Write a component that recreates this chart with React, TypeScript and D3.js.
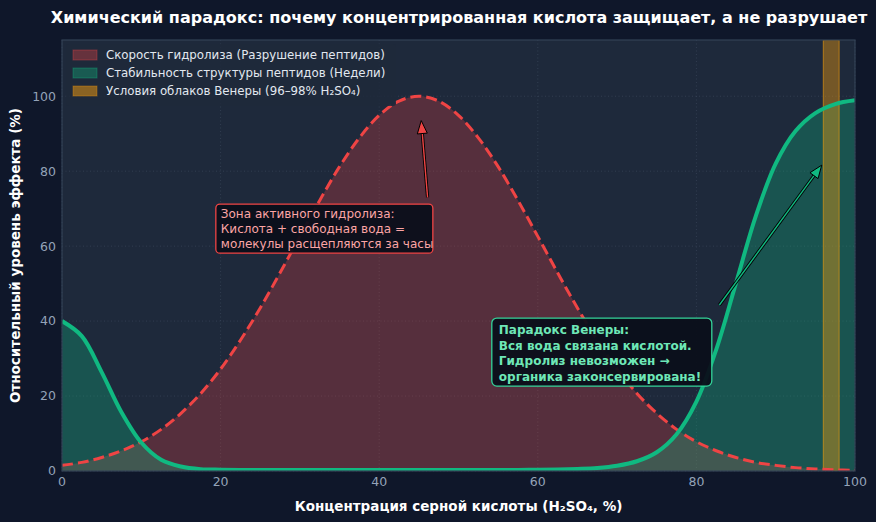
import React, {useEffect} from 'react';
import * as d3 from 'd3';

// concentration of H2SO4, %
const concentration = [
  0, 2.5, 5, 7.5, 10, 12.5, 15, 17.5, 20, 22.5, 25, 27.5, 30, 32.5, 35, 37.5, 40, 42.5, 45, 47.5,
  50, 52.5, 55, 57.5, 60, 62.5, 65, 67.5, 70, 72.5, 75, 77.5, 80, 82.5, 85, 87.5, 90, 92.5, 95, 97.5, 100,
];

// hydrolysis rate (peptide destruction)
const hydrolysis = [
  1.5, 2.3, 3.6, 5.4, 7.8, 11.1, 15.4, 20.7, 27.2, 34.9, 43.5, 52.9, 62.6, 72.2, 81.2, 88.9, 94.9, 98.7, 100, 98.7,
  94.9, 88.9, 81.2, 72.2, 62.6, 52.9, 43.5, 34.9, 27.2, 20.7, 15.4, 11.1, 7.8, 5.4, 3.6, 2.3, 1.5, 0.9, 0.55, 0.3, 0.2,
];

// structural stability of peptides
const stability = [
  40.0, 36.0, 26.4, 15.7, 7.6, 3.0, 1.2, 0.5, 0.35, 0.3, 0.3, 0.3, 0.3, 0.3, 0.3, 0.3, 0.3, 0.3, 0.3, 0.3,
  0.3, 0.3, 0.3, 0.3, 0.35, 0.4, 0.55, 0.8, 1.4, 2.6, 5.0, 9.8, 18.5, 32.4, 50.2, 68.1, 82.0, 90.7, 95.5, 97.9, 98.9,
];

const venusBand = [96, 98];
const xTicks = [0, 20, 40, 60, 80, 100];
const yTicks = [0, 20, 40, 60, 80, 100];

const legendLabels = [
  'Скорость гидролиза (Разрушение пептидов)',
  'Стабильность структуры пептидов (Недели)',
  'Условия облаков Венеры (96–98% H₂SO₄)',
];

const redNote = ['Зона активного гидролиза:', 'Кислота + свободная вода =', 'молекулы расщепляются за часы'];
const greenNote = ['Парадокс Венеры:', 'Вся вода связана кислотой.', 'Гидролиз невозможен →', 'органика законсервирована!'];

const W = 876;
const H = 522;
const margin = {top: 40, right: 21, bottom: 51, left: 62};
const FONT = '"DejaVu Sans", sans-serif';

const RED = '#ef4444';
const GREEN = '#10b981';
const ORANGE = '#f59e0b';

function Arrow({x1, y1, x2, y2, color}: {x1: number; y1: number; x2: number; y2: number; color: string}) {
  const ang = Math.atan2(y2 - y1, x2 - x1);
  const hl = 13;
  const hw = 5;
  const bx = x2 - hl * Math.cos(ang);
  const by = y2 - hl * Math.sin(ang);
  const px = -Math.sin(ang);
  const py = Math.cos(ang);
  const head = `${x2},${y2} ${bx + hw * px},${by + hw * py} ${bx - hw * px},${by - hw * py}`;
  return (
    <g>
      <line x1={x1} y1={y1} x2={bx} y2={by} stroke="#000" strokeWidth={3.2}/>
      <line x1={x1} y1={y1} x2={bx} y2={by} stroke={color} strokeWidth={1.4}/>
      <polygon points={head} fill={color} stroke="#000" strokeWidth={1}/>
    </g>
  );
}

export default function App() {
  useEffect(() => {
    document.body.style.margin = '0';
    document.body.style.background = '#0f172a';
  }, []);

  const x = d3.scaleLinear().domain([0, 100]).range([margin.left, W - margin.right]);
  const y = d3.scaleLinear().domain([0, 115]).range([H - margin.bottom, margin.top]);

  const pts = (vals: number[]) => concentration.map((c, i) => [c, vals[i]] as [number, number]);

  const curve = d3.curveCatmullRom.alpha(0.5);
  const line = d3.line<[number, number]>().x(d => x(d[0])).y(d => y(d[1])).curve(curve);
  const area = d3.area<[number, number]>().x(d => x(d[0])).y0(y(0)).y1(d => y(d[1])).curve(curve);

  const redPts = pts(hydrolysis);
  const greenPts = pts(stability);

  const plotW = W - margin.left - margin.right;
  const plotH = H - margin.top - margin.bottom;

  return (
    <svg width={W} height={H} style={{display: 'block', background: '#0f172a'}} fontFamily={FONT}>
      <rect x={0} y={0} width={W} height={H} fill="#0f172a"/>
      {/* plot area */}
      <rect x={margin.left} y={margin.top} width={plotW} height={plotH} fill="#1e293b"/>

      {/* grid */}
      <g stroke="#475569" strokeOpacity={0.6} strokeWidth={0.8} strokeDasharray="1,2.5">
        {yTicks.map(t => <line key={'gy' + t} x1={margin.left} x2={W - margin.right} y1={y(t)} y2={y(t)}/>)}
        {xTicks.map(t => <line key={'gx' + t} x1={x(t)} x2={x(t)} y1={margin.top} y2={H - margin.bottom}/>)}
      </g>

      <defs>
        <clipPath id="plot-clip">
          <rect x={margin.left} y={margin.top} width={plotW} height={plotH}/>
        </clipPath>
      </defs>

      <g clipPath="url(#plot-clip)">
        {/* fills */}
        <path d={area(redPts)!} fill={RED} fillOpacity={0.27}/>
        <path d={area(greenPts)!} fill={GREEN} fillOpacity={0.3}/>

        {/* venus band */}
        <rect x={x(venusBand[0])} y={margin.top} width={x(venusBand[1]) - x(venusBand[0])} height={plotH}
              fill={ORANGE} fillOpacity={0.4} stroke={ORANGE} strokeOpacity={0.6} strokeWidth={1}/>

        {/* lines */}
        <path d={line(redPts)!} fill="none" stroke={RED} strokeWidth={3} strokeDasharray="11,5"/>
        <path d={line(greenPts)!} fill="none" stroke={GREEN} strokeWidth={4}/>
      </g>

      {/* spines */}
      <rect x={margin.left} y={margin.top} width={plotW} height={plotH} fill="none" stroke="#334155" strokeWidth={1.2}/>

      {/* ticks */}
      <g fill="#94a3b8" fontSize={12.5}>
        {yTicks.map(t => (
          <text key={'ty' + t} x={margin.left - 6} y={y(t)} dy="0.35em" textAnchor="end">{t}</text>
        ))}
        {xTicks.map(t => (
          <text key={'tx' + t} x={x(t)} y={H - margin.bottom + 15} textAnchor="middle">{t}</text>
        ))}
      </g>

      {/* axis labels */}
      <text x={x(50)} y={511} textAnchor="middle" fill="#ffffff" fontSize={13.5} fontWeight="bold">
        Концентрация серной кислоты (H₂SO₄, %)
      </text>
      <text transform={`translate(20,${(margin.top + H - margin.bottom) / 2}) rotate(-90)`} textAnchor="middle"
            fill="#ffffff" fontSize={13.5} fontWeight="bold">
        Относительный уровень эффекта (%)
      </text>

      {/* title */}
      <text x={459} y={23} textAnchor="middle" fill="#ffffff" fontSize={16} fontWeight="bold">
        Химический парадокс: почему концентрированная кислота защищает, а не разрушает
      </text>

      {/* legend */}
      <g fontSize={11.8}>
        <rect x={margin.left + 4} y={margin.top + 4} width={330} height={62} rx={3} fill="#1e293b" fillOpacity={0.85}/>
        {legendLabels.map((lab, i) => {
          const c = [RED, GREEN, ORANGE][i];
          const yy = 55 + i * 18;
          return (
            <g key={lab}>
              <rect x={73} y={yy - 5} width={24} height={10} fill={c} fillOpacity={i === 2 ? 0.5 : 0.35}
                    stroke={c} strokeOpacity={0.35}/>
              <text x={106} y={yy} dy="0.35em" fill="#e2e8f0">{lab}</text>
            </g>
          );
        })}
      </g>

      {/* arrows */}
      <Arrow x1={x(46.1)} y1={y(73)} x2={x(45.3)} y2={y(93.5)} color={RED}/>
      <Arrow x1={x(82.9)} y1={y(44.3)} x2={x(95.8)} y2={y(81.6)} color={GREEN}/>

      {/* red note */}
      <g>
        <rect x={x(19.4)} y={y(71.2)} width={217} height={49} rx={4} fill="#0b0f1a" fillOpacity={0.95}
              stroke={RED} strokeWidth={1.3}/>
        {redNote.map((s, i) => (
          <text key={s} x={x(19.4) + 5} y={y(71.2) + 10 + i * 15} dy="0.35em" fill="#fca5a5" fontSize={12}>{s}</text>
        ))}
      </g>

      {/* green note */}
      <g>
        <rect x={x(54.2)} y={y(40.8)} width={220} height={68} rx={5} fill="#0b0f1a" fillOpacity={0.95}
              stroke="#34d399" strokeWidth={1.3}/>
        {greenNote.map((s, i) => (
          <text key={s} x={x(54.2) + 7} y={y(40.8) + 12 + i * 15.5} dy="0.35em" fill="#6ee7b7" fontSize={12}
                fontWeight="bold">{s}</text>
        ))}
      </g>
    </svg>
  );
}
